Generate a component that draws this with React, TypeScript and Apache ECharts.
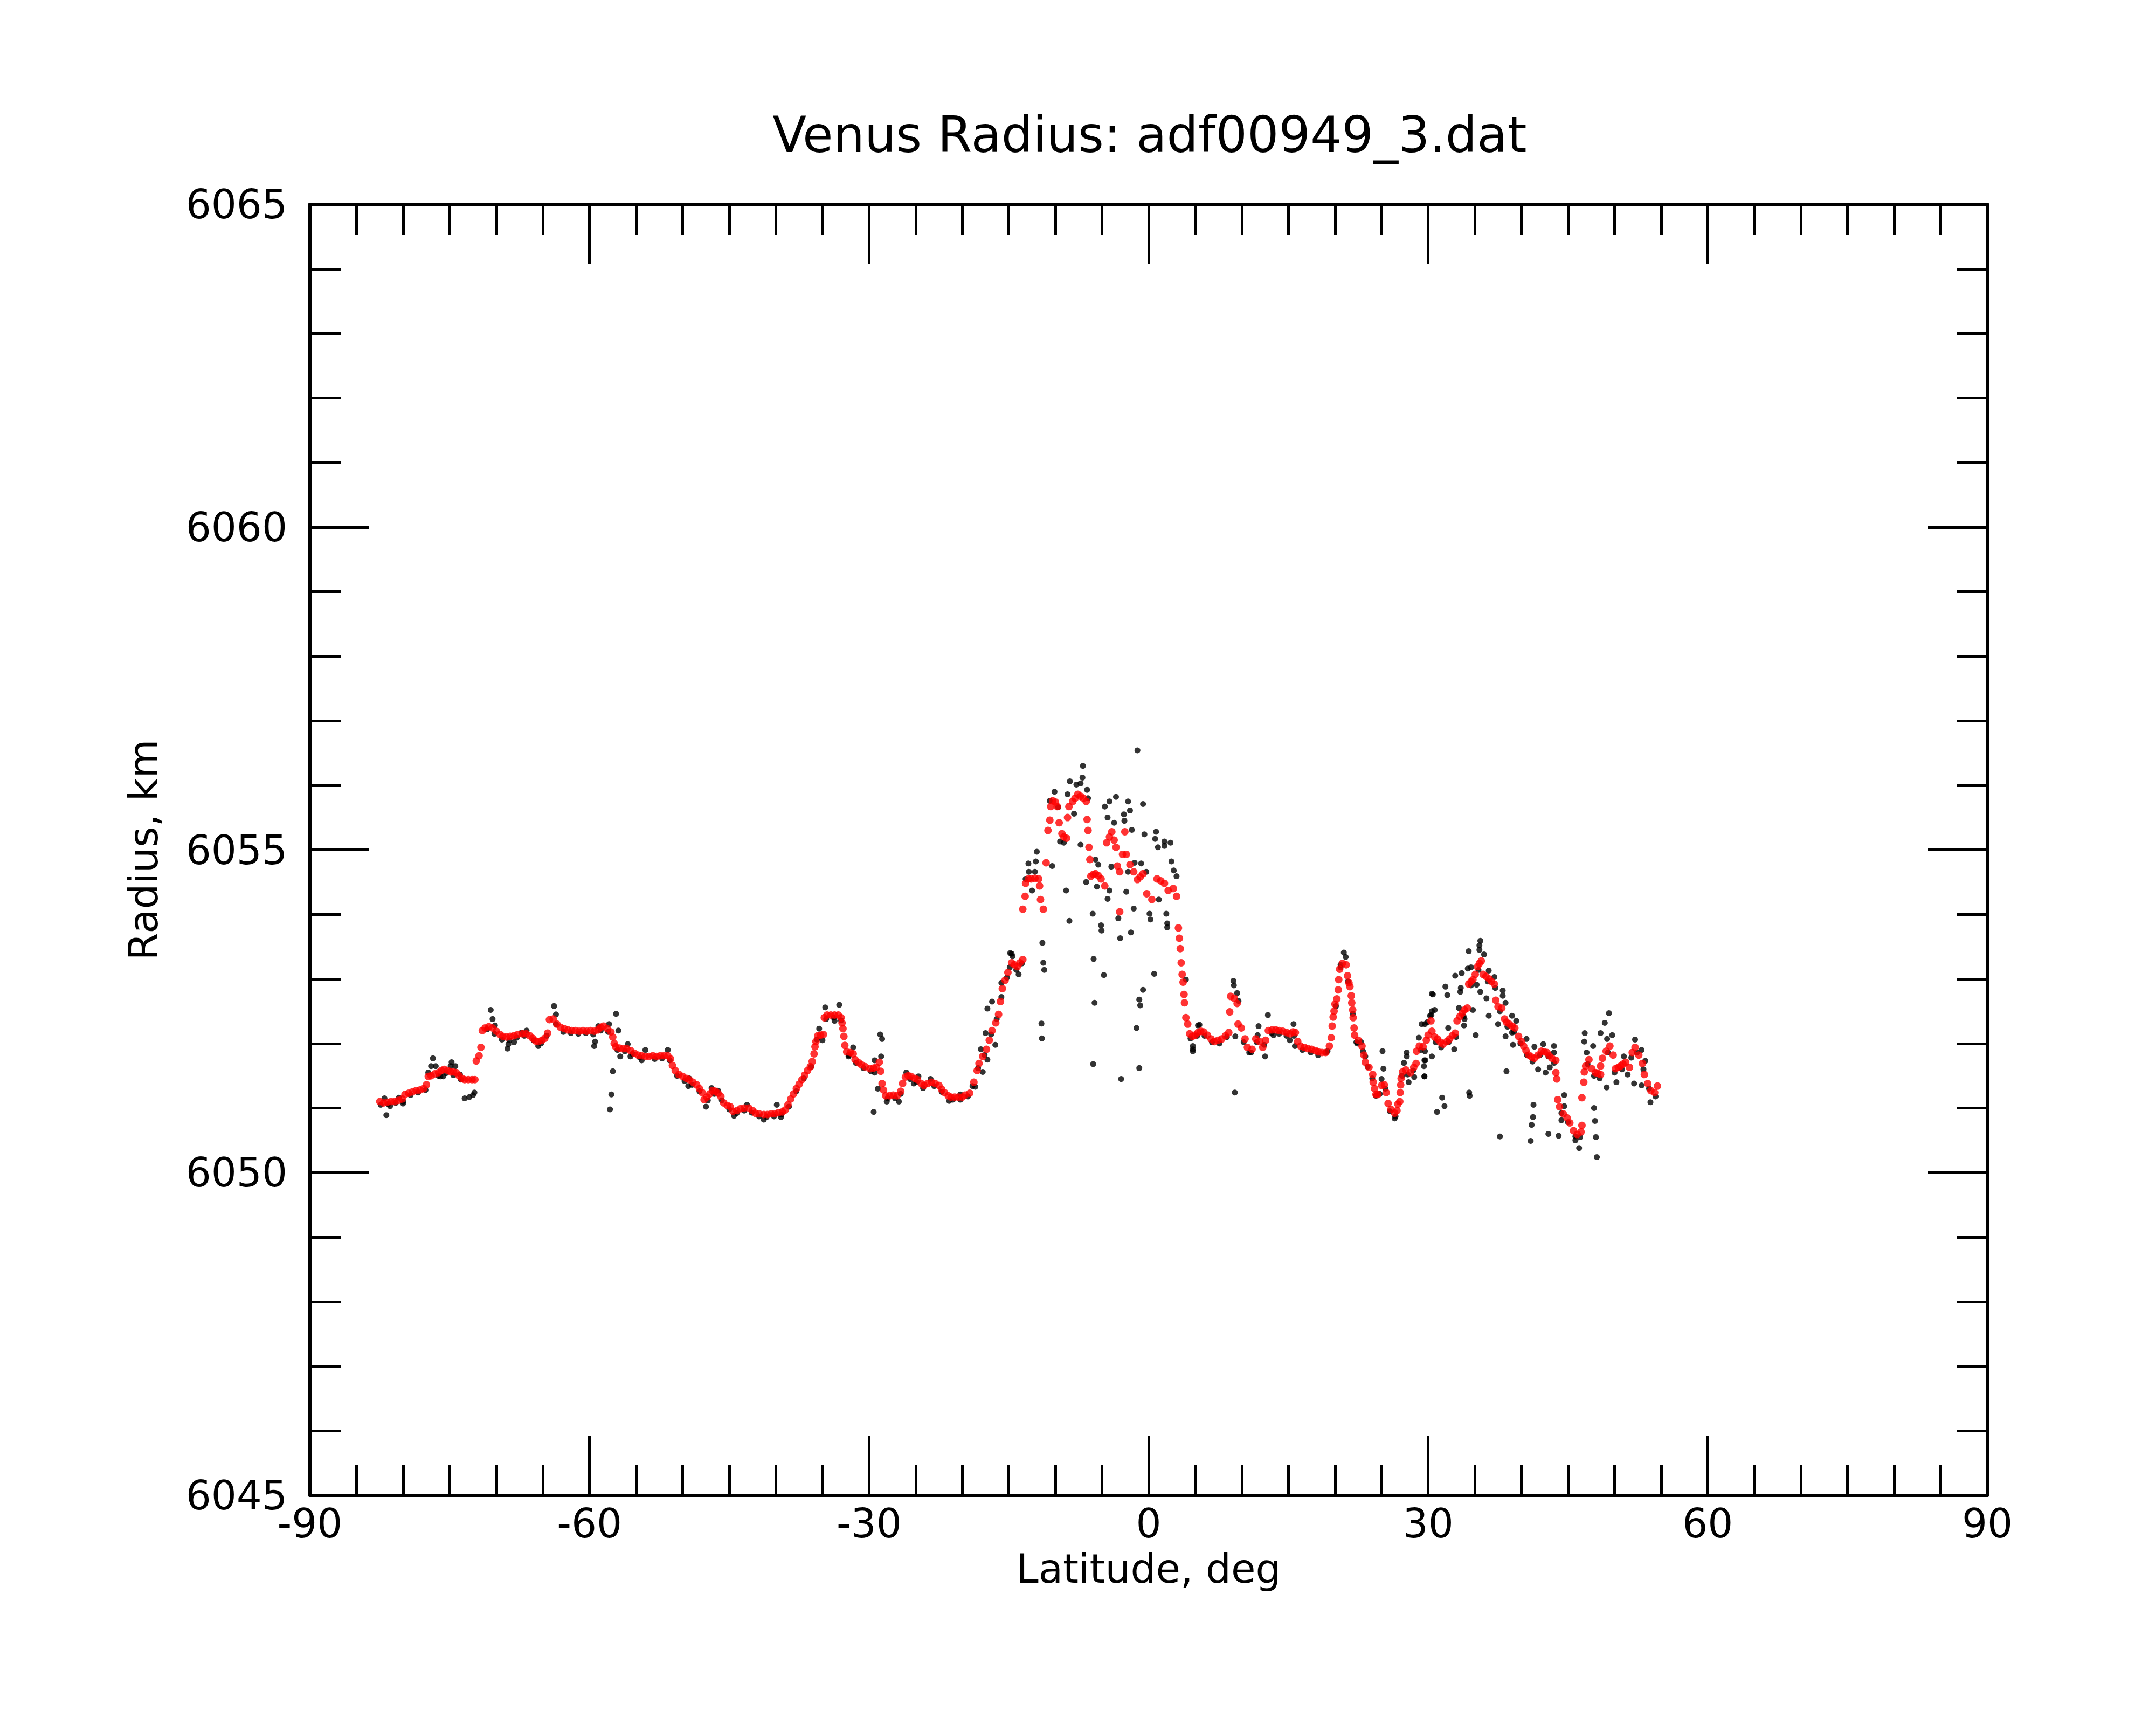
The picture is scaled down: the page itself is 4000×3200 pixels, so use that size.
import React, { useEffect, useRef } from "react";
import * as echarts from "echarts";

// ---- tick labels / axis ranges ----
const xTicks = [-90, -60, -30, 0, 30, 60, 90];
const yTicks = [6045, 6050, 6055, 6060, 6065];
const titleText = "Venus Radius: adf00949_3.dat";
const xName = "Latitude, deg";
const yName = "Radius, km";

// ---- red (smoothed) points: [latitude, radius] ----
const redSouth: number[][] = [
  [-82.5,6051.10],[-82.1,6051.08],[-81.7,6051.09],[-81.3,6051.10],[-80.9,6051.10],[-80.5,6051.12],[-80.1,6051.14],[-79.8,6051.21],
  [-79.4,6051.23],[-79.0,6051.25],[-78.6,6051.27],[-78.2,6051.28],[-77.8,6051.30],[-77.5,6051.36],[-77.3,6051.49],[-77.0,6051.50],
  [-76.6,6051.53],[-76.2,6051.55],[-75.9,6051.58],[-75.6,6051.60],[-75.2,6051.58],[-74.9,6051.56],[-74.6,6051.56],[-74.3,6051.55],
  [-74.0,6051.50],[-73.7,6051.46],[-73.4,6051.44],[-73.0,6051.44],[-72.6,6051.44],[-72.3,6051.44],
  [-72.15,6051.73],[-71.85,6051.81],[-71.65,6051.94],
  [-71.5,6052.20],[-71.2,6052.24],[-70.8,6052.26],[-70.4,6052.24],[-70.0,6052.19],[-69.6,6052.14],[-69.3,6052.11],[-68.9,6052.10],
  [-68.5,6052.11],[-68.1,6052.12],[-67.7,6052.14],[-67.2,6052.15],[-66.8,6052.15],[-66.4,6052.12],[-66.1,6052.08],[-65.8,6052.04],
  [-65.5,6052.03],[-65.1,6052.05],[-64.8,6052.08],[-64.5,6052.16],[-64.3,6052.37],[-63.9,6052.38],[-63.5,6052.30],[-63.1,6052.25],
  [-62.7,6052.23],[-62.3,6052.21],[-61.9,6052.20],[-61.5,6052.20],[-61.1,6052.19],[-60.7,6052.20],[-60.3,6052.19],[-59.9,6052.20],
  [-59.5,6052.19],[-59.1,6052.21],[-58.8,6052.25],[-58.5,6052.27],[-58.1,6052.23],[-57.7,6052.18],[-57.5,6052.10],[-57.35,6052.00],
  [-57.2,6051.95],[-56.8,6051.93],[-56.4,6051.92],[-56.0,6051.92],[-55.6,6051.89],[-55.2,6051.85],[-54.8,6051.82],[-54.4,6051.81],
  [-54.0,6051.80],
];
const redMid: number[][] = [
  [-53.6,6051.80],[-53.2,6051.81],[-52.8,6051.80],[-52.4,6051.81],[-52.0,6051.81],[-51.6,6051.81],[-51.3,6051.76],[-51.1,6051.66],
  [-50.8,6051.58],[-50.4,6051.52],[-50.0,6051.49],[-49.6,6051.46],[-49.3,6051.44],[-48.9,6051.40],[-48.5,6051.36],[-48.2,6051.30],
  [-47.9,6051.24],[-47.7,6051.13],[-47.4,6051.17],[-47.1,6051.22],[-46.8,6051.27],[-46.5,6051.26],[-46.2,6051.23],[-45.9,6051.18],
  [-45.6,6051.08],[-45.2,6051.04],[-44.9,6051.02],[-44.6,6050.95],[-44.2,6050.96],[-43.8,6050.99],[-43.4,6051.00],[-42.9,6051.00],
  [-42.5,6050.96],[-42.2,6050.92],[-41.8,6050.91],[-41.3,6050.90],[-40.9,6050.90],[-40.5,6050.91],[-40.1,6050.91],[-39.7,6050.93],
  [-39.3,6050.94],[-39.0,6050.97],[-38.7,6051.05],[-38.4,6051.14],[-38.1,6051.22],[-37.8,6051.30],[-37.5,6051.37],[-37.2,6051.44],
  [-36.9,6051.51],[-36.6,6051.58],[-36.3,6051.64],[-36.1,6051.72],[-35.9,6051.84],[-35.8,6051.95],[-35.7,6052.03],[-35.5,6052.12],
  [-35.2,6052.13],[-34.9,6052.14],[-34.8,6052.40],[-34.5,6052.44],[-34.1,6052.44],[-33.7,6052.44],[-33.3,6052.44],[-33.0,6052.40],
  [-32.9,6052.32],[-32.8,6052.23],[-32.7,6052.11],[-32.6,6051.97],[-32.4,6051.87],[-32.0,6051.86],[-31.7,6051.84],[-31.5,6051.75],
  [-31.1,6051.70],[-30.8,6051.67],[-30.4,6051.64],[-29.9,6051.61],[-29.5,6051.62],[-29.2,6051.63],[-28.9,6051.71],[-28.75,6051.57],
  [-28.6,6051.38],[-28.45,6051.28],[-28.2,6051.19],[-27.8,6051.19],[-27.4,6051.20],[-27.0,6051.19],[-26.6,6051.26],[-26.4,6051.38],
  [-26.1,6051.48],[-25.8,6051.50],[-25.5,6051.49],[-25.1,6051.46],[-24.8,6051.44],[-24.4,6051.38],[-24.1,6051.35],[-23.7,6051.38],
  [-23.3,6051.40],[-22.9,6051.38],[-22.5,6051.35],[-22.2,6051.29],[-21.9,6051.24],[-21.5,6051.19],[-21.2,6051.17],[-20.8,6051.17],
  [-20.4,6051.17],[-20.0,6051.17],[-19.7,6051.20],
];
const redCenter: number[][] = [
  [-19.2,6051.23],[-18.75,6051.40],[-18.4,6051.58],[-18.2,6051.69],[-17.8,6051.80],[-17.4,6051.91],[-17.1,6052.05],[-16.8,6052.20],
  [-16.4,6052.32],[-16.1,6052.45],[-15.9,6052.65],[-15.7,6052.85],[-15.4,6052.98],[-15.1,6053.10],[-14.7,6053.25],[-14.4,6053.22],
  [-14.1,6053.19],[-13.8,6053.25],[-13.5,6053.30],
  [-13.5,6054.08],[-13.25,6054.28],[-13.2,6054.48],[-12.9,6054.55],[-12.6,6054.55],[-12.2,6054.56],[-11.8,6054.55],[-11.7,6054.44],
  [-11.6,6054.23],[-11.3,6054.08],[-11.0,6054.80],[-10.8,6055.30],[-10.6,6055.46],[-10.5,6055.67],[-10.3,6055.76],[-10.0,6055.74],
  [-9.8,6055.67],[-9.6,6055.42],[-9.3,6055.25],[-9.1,6055.20],[-8.8,6055.18],[-8.7,6055.50],[-8.55,6055.67],[-8.15,6055.75],
  [-7.9,6055.80],[-7.6,6055.86],[-7.3,6055.83],[-7.0,6055.80],[-6.7,6055.75],[-6.6,6055.47],[-6.5,6055.30],[-6.4,6055.04],
  [-6.3,6054.85],[-6.2,6054.59],[-5.95,6054.62],[-5.7,6054.63],[-5.4,6054.60],[-5.1,6054.55],[-4.7,6054.44],[-4.5,6055.11],
  [-4.2,6055.20],[-3.95,6055.28],[-3.7,6055.15],[-3.5,6055.04],[-3.35,6054.75],[-3.1,6054.66],[-3.1,6054.04],[-2.8,6054.93],
  [-2.55,6055.28],[-2.4,6054.93],[-2.0,6054.77],[-1.6,6054.66],[-1.2,6054.54],[-0.9,6054.58],[-0.6,6054.63],[-0.2,6054.32],
  [0.35,6054.23],[0.9,6054.55],[1.3,6054.52],[1.7,6054.48],[2.1,6054.37],[2.65,6054.40],[3.0,6054.28],[3.2,6053.79],
  [3.3,6053.63],[3.4,6053.47],[3.5,6053.25],[3.6,6053.07],[3.7,6052.95],[3.8,6052.76],[3.85,6052.63],[4.0,6052.40],
  [4.2,6052.30],[4.4,6052.15],[4.7,6052.11],[5.0,6052.13],[5.3,6052.17],[5.6,6052.19],
];
const redNorth: number[][] = [
  [5.9,6052.18],[6.3,6052.13],[6.7,6052.07],[7.05,6052.03],[7.45,6052.05],[7.85,6052.07],[8.25,6052.12],[8.6,6052.17],
  [8.7,6052.49],[8.8,6052.73],[9.2,6052.70],[9.5,6052.62],[9.6,6052.30],[9.95,6052.24],[10.35,6052.07],[10.6,6051.94],
  [11.1,6051.91],[11.5,6052.07],[11.9,6052.03],[12.25,6051.94],[12.55,6052.05],[12.85,6052.20],[13.25,6052.21],[13.65,6052.21],
  [14.0,6052.20],[14.4,6052.19],[14.8,6052.17],[15.15,6052.15],[15.5,6052.18],[15.75,6052.17],[16.0,6052.03],[16.3,6051.96],
  [16.7,6051.94],[17.1,6051.92],[17.5,6051.91],[17.9,6051.89],[18.2,6051.87],[18.6,6051.86],[19.0,6051.86],[19.4,6051.96],
  [19.6,6052.09],[19.7,6052.27],[19.8,6052.41],[19.9,6052.50],[20.0,6052.61],[20.2,6052.69],[20.35,6052.83],[20.4,6052.99],
  [20.5,6053.15],[20.8,6053.24],[21.2,6053.22],[21.35,6053.05],[21.5,6052.94],[21.6,6052.88],[21.75,6052.74],[21.8,6052.63],
  [21.9,6052.52],[21.95,6052.40],[22.05,6052.24],[22.1,6052.13],[22.5,6052.05],[22.9,6051.96],[23.1,6051.82],[23.25,6051.71],
  [23.65,6051.63],[24.05,6051.52],[24.1,6051.40],[24.25,6051.30],[24.4,6051.21],[24.6,6051.21],[25.0,6051.35],[25.3,6051.36],
  [25.5,6051.24],[25.7,6051.07],[26.0,6050.98],[26.4,6050.92],[26.65,6050.96],[26.75,6051.06],[26.95,6051.10],[27.0,6051.24],
  [27.05,6051.36],[27.1,6051.46],[27.25,6051.56],[27.6,6051.59],[28.1,6051.55],[28.45,6051.63],[28.7,6051.69],[28.75,6051.88],
  [29.05,6051.96],[29.45,6051.95],[29.8,6052.05],[30.0,6052.13],[30.3,6052.35],[30.4,6052.19],[30.7,6052.10],[31.0,6052.07],
  [31.3,6052.02],[31.6,6051.99],[32.0,6052.03],[32.3,6052.07],[32.6,6052.12],[32.9,6052.16],[33.1,6052.35],[33.4,6052.42],
  [33.65,6052.47],[33.9,6052.52],[34.2,6052.55],[34.35,6052.92],[34.6,6052.96],[34.8,6052.99],[35.05,6053.07],[35.3,6053.19],
  [35.5,6053.24],[35.7,6053.28],[35.9,6053.07],[36.2,6053.04],[36.55,6053.00],[36.8,6052.96],[37.1,6052.92],[37.25,6052.67],
  [37.5,6052.57],[37.9,6052.55],[38.2,6052.38],[38.4,6052.33],[38.7,6052.30],[39.0,6052.27],[39.3,6052.24],[39.7,6052.11],
  [40.0,6052.03],[40.25,6051.96],[40.5,6051.89],[40.8,6051.82],[41.1,6051.79],[41.4,6051.77],[41.8,6051.82],[42.15,6051.88],
  [42.45,6051.87],[42.75,6051.86],[43.0,6051.81],[43.3,6051.77],[43.7,6051.74],[43.7,6051.55],[43.8,6051.45],[43.9,6051.13],
  [44.1,6051.02],[44.5,6050.91],[44.9,6050.85],[45.2,6050.77],[45.6,6050.65],[46.0,6050.59],[46.4,6050.63],[46.5,6050.73],
  [46.5,6051.16],[46.7,6051.40],[46.75,6051.56],[46.9,6051.65],[47.25,6051.75],[47.55,6051.61],[47.95,6051.55],[48.2,6051.54],
  [48.5,6051.52],[48.5,6051.65],[48.7,6051.77],[49.1,6051.88],[49.5,6051.96],[49.85,6051.82],[50.1,6051.61],[50.4,6051.63],
  [50.65,6051.65],[50.9,6051.68],[51.2,6051.71],[51.6,6051.63],[51.9,6051.86],[52.2,6051.94],[52.6,6051.82],[53.0,6051.69],
  [53.2,6051.52],[53.55,6051.38],[53.9,6051.27],[54.3,6051.24],[54.6,6051.34],
];

// ---- black (raw) points: [latitude, radius] ----
const blackTrack: number[][] = [
  [-82.4,6051.05],[-81.6,6051.06],[-80.8,6051.08],[-80.0,6051.10],[-79.2,6051.20],[-78.4,6051.24],[-77.6,6051.28],[-76.2,6051.50],
  [-75.4,6051.54],[-74.6,6051.51],[-73.8,6051.44],[-71.0,6052.22],[-70.2,6052.15],[-69.4,6052.06],[-68.6,6052.05],[-67.8,6052.09],
  [-67.0,6052.12],[-66.0,6052.05],[-65.2,6052.00],[-64.6,6052.12],[-63.6,6052.30],[-62.8,6052.18],[-62.0,6052.16],[-61.2,6052.15],
  [-60.4,6052.16],[-59.6,6052.14],[-58.8,6052.20],[-58.0,6052.18],[-57.0,6051.90],[-56.2,6051.88],[-55.4,6051.84],[-54.6,6051.78],
  [-53.0,6051.76],[-52.2,6051.77],[-51.4,6051.74],[-50.6,6051.50],[-49.8,6051.42],[-49.0,6051.36],[-48.2,6051.26],[-47.3,6051.12],
  [-46.6,6051.22],[-45.8,6051.12],[-45.0,6050.98],[-44.2,6050.92],[-43.4,6050.96],[-42.6,6050.93],[-41.8,6050.87],[-41.0,6050.86],
  [-40.2,6050.87],[-39.4,6050.90],[-38.6,6051.02],[-37.8,6051.26],[-37.0,6051.46],[-36.2,6051.64],[-35.6,6052.06],[-34.6,6052.38],
  [-33.8,6052.40],[-33.0,6052.36],[-32.2,6051.82],[-31.4,6051.70],[-30.6,6051.62],[-29.8,6051.57],[-28.0,6051.15],[-27.2,6051.15],
  [-26.6,6051.22],[-25.6,6051.45],[-24.9,6051.40],[-24.2,6051.31],[-23.0,6051.34],[-22.2,6051.25],[-21.0,6051.13],[-20.2,6051.13],
  [-19.4,6051.18],[-18.9,6051.34],[-18.3,6051.62],[-17.6,6051.82],[-16.9,6052.14],[-16.3,6052.38],[-15.8,6052.72],[-15.2,6053.02],
  [-14.9,6053.18],[-14.2,6053.14],[-13.6,6053.24],
  [4.5,6052.08],[5.2,6052.12],[6.0,6052.12],[6.8,6052.02],[7.6,6052.00],[8.4,6052.10],[10.2,6052.02],[11.0,6051.86],
  [11.6,6052.02],[12.4,6051.98],[13.2,6052.16],[14.0,6052.15],[14.8,6052.12],[15.6,6052.12],[16.5,6051.90],[17.4,6051.86],
  [18.2,6051.82],[19.2,6051.88],[20.1,6052.58],[20.6,6053.18],[21.4,6052.96],[21.9,6052.46],[22.4,6052.00],[23.0,6051.88],
  [23.5,6051.64],[24.0,6051.46],[24.8,6051.22],[25.4,6051.30],[25.9,6050.95],[26.5,6050.87],[27.2,6051.50],[27.8,6051.52],
  [28.4,6051.58],[29.2,6051.90],[30.8,6052.02],[31.4,6051.94],[32.2,6052.02],[33.0,6052.10],[33.8,6052.42],[34.6,6052.90],
  [35.4,6053.14],[36.4,6052.96],[37.2,6052.86],[37.7,6052.50],[38.5,6052.26],[39.2,6052.18],[39.9,6052.00],[40.6,6051.82],
  [41.2,6051.72],[42.0,6051.82],[42.9,6051.80],[43.5,6051.70],[44.3,6050.92],[45.0,6050.78],[45.8,6050.56],[46.3,6050.55],
  [47.1,6051.68],[47.8,6051.50],[48.4,6051.46],[49.3,6051.86],[50.0,6051.55],[50.8,6051.60],[51.8,6051.78],[52.4,6051.86],
  [53.1,6051.60],[53.7,6051.30],[54.4,6051.18],
];
const blackScatterSouth: number[][] = [
  [-81.8,6050.89],[-81.4,6051.03],[-82.0,6051.15],[-80.45,6051.16],[-80.0,6051.07],[-76.8,6051.77],[-77.0,6051.65],[-76.5,6051.65],
  [-77.3,6051.55],[-75.7,6051.49],[-76.0,6051.49],[-74.8,6051.71],[-74.9,6051.65],[-74.4,6051.65],[-73.9,6051.52],[-73.4,6051.15],
  [-72.9,6051.17],[-72.5,6051.20],[-72.35,6051.24],[-70.6,6052.52],[-70.4,6052.38],[-70.15,6052.28],[-68.8,6051.92],[-68.7,6051.99],
  [-68.1,6052.02],[-67.3,6052.17],[-66.75,6052.20],[-65.5,6051.96],[-63.8,6052.58],[-63.6,6052.45],[-59.5,6051.96],[-59.4,6052.03],
  [-59.05,6052.27],[-57.9,6052.30],[-57.15,6052.46],[-56.9,6052.20],[-57.5,6051.57],[-57.65,6051.21],[-57.8,6050.98],[-56.7,6051.80],
  [-55.9,6051.99],[-55.6,6051.80],[-54.4,6051.74],
  [-54.0,6051.90],[-51.6,6051.90],[-49.3,6051.46],[-49.4,6051.34],[-47.5,6051.02],[-46.9,6051.31],[-46.2,6051.27],[-44.5,6050.88],
  [-43.1,6051.05],[-41.3,6050.82],[-39.9,6051.05],[-39.45,6050.86],[-35.35,6052.23],[-35.0,6052.05],[-34.7,6052.56],[-33.7,6052.35],
  [-33.2,6052.60],[-31.7,6051.94],[-32.2,6051.80],[-28.6,6052.07],[-28.8,6052.14],[-28.7,6051.80],[-29.4,6051.74],[-29.05,6051.30],
  [-29.4,6051.55],[-29.5,6050.94],[-28.1,6051.10],[-26.8,6051.10],[-26.0,6051.55],[-25.2,6051.38],[-24.7,6051.49],[-23.4,6051.45],
  [-21.4,6051.11],[-20.2,6051.21],
];
const blackScatterCenter: number[][] = [
  [-1.2,6056.54],[-7.05,6056.30],[-7.1,6056.12],[-8.45,6056.06],[-7.75,6056.01],[-7.3,6056.03],[-10.1,6055.90],[-8.7,6055.86],
  [-6.6,6055.93],[-6.5,6055.80],[-10.6,6055.76],[-9.7,6055.66],[-8.0,6055.56],[-3.5,6055.82],[-4.2,6055.75],[-4.7,6055.67],
  [-2.2,6055.75],[-0.6,6055.71],[-2.65,6055.55],[-2.0,6055.61],[-4.4,6055.50],[-3.7,6055.42],[-2.6,6055.45],[-1.8,6055.31],
  [-0.45,6055.24],[0.8,6055.28],[0.7,6055.17],[1.7,6055.13],[2.35,6055.11],[1.0,6055.04],[1.7,6055.06],[-7.3,6055.08],
  [-9.5,6055.13],[-9.1,6055.11],[-12.0,6054.97],[-12.9,6054.79],[-12.1,6054.82],[-10.35,6054.75],[-12.85,6054.66],[-12.2,6054.66],
  [-13.2,6054.55],[-12.5,6054.37],[-5.7,6054.85],[-5.4,6054.77],[-4.0,6054.74],[-1.5,6054.80],[-0.8,6054.79],[-2.2,6054.66],
  [2.45,6054.82],[2.7,6054.68],[3.0,6054.59],[-0.25,6054.66],[1.1,6054.23],[-6.7,6054.50],[-5.55,6054.43],[-4.2,6054.37],
  [-4.4,6054.24],[-2.4,6054.35],[-8.85,6054.37],[-1.6,6054.09],[-6.0,6054.01],[0.1,6054.01],[1.9,6054.01],[-3.25,6053.94],
  [0.2,6053.92],[-8.5,6053.90],[2.0,6053.86],[2.0,6053.80],[-5.1,6053.83],[-5.05,6053.75],[-1.9,6053.72],[-3.05,6053.63],
  [-11.4,6053.56],[-14.7,6053.39],[-14.6,6053.35],[-13.95,6053.07],[-11.3,6053.25],[-11.2,6053.14],[-5.9,6053.31],[-4.8,6053.06],
  [0.6,6053.08],[-0.6,6052.83],[-1.0,6052.68],[-0.9,6052.59],[-5.8,6052.63],[-11.5,6052.31],[-11.45,6052.08],[-1.3,6052.24],
  [-5.95,6051.68],[-1.0,6051.62],[-2.95,6051.45],[-15.8,6052.94],[-16.8,6052.65],[-17.3,6052.54],[-17.5,6052.16],[-16.45,6051.98],
  [-18.0,6051.91],[-17.3,6051.75],[-17.8,6051.56],[-18.6,6051.33],[-14.85,6053.40],[4.75,6051.91],[5.45,6052.29],
];
const blackScatterNorth: number[][] = [
  [4.75,6051.96],[4.75,6051.88],[5.3,6052.28],[9.1,6052.97],[9.15,6052.90],[9.5,6052.78],[9.65,6052.66],[9.3,6052.11],
  [9.25,6051.24],[10.8,6051.86],[11.8,6052.27],[11.7,6052.13],[12.8,6052.44],[12.5,6051.80],[13.4,6052.13],[15.15,6052.05],
  [15.55,6052.30],[15.7,6051.96],[19.0,6051.86],[20.95,6053.41],[21.15,6053.34],[20.6,6053.22],[22.3,6052.02],[22.8,6052.02],
  [23.25,6051.80],[25.1,6051.88],[25.2,6051.61],[25.0,6051.45],[24.4,6051.19],[26.4,6050.84],[27.7,6051.86],[27.7,6051.80],
  [27.4,6051.70],[27.9,6051.40],[28.5,6051.48],[29.3,6052.30],[29.0,6052.09],[29.65,6051.88],[29.6,6051.74],[29.55,6051.65],
  [29.6,6051.49],[29.9,6052.33],[30.4,6052.77],[30.2,6052.43],[30.4,6052.50],[4.0,6052.99],
  [30.5,6052.76],[31.85,6052.88],[32.05,6052.75],[30.7,6052.52],[30.35,6052.44],[29.65,6052.30],[32.15,6052.24],[32.9,6053.05],
  [33.6,6053.09],[33.5,6052.86],[33.45,6052.80],[33.3,6052.55],[33.9,6052.38],[33.85,6052.28],[34.8,6052.52],[35.1,6052.13],
  [34.35,6053.43],[35.6,6053.59],[35.5,6053.52],[35.5,6053.45],[36.0,6053.38],[34.25,6053.16],[34.6,6053.18],[35.2,6052.91],
  [35.6,6052.80],[36.25,6052.70],[36.5,6053.13],[37.1,6053.03],[36.5,6052.43],[38.0,6052.82],[38.0,6052.74],[38.3,6052.63],
  [37.5,6052.30],[38.3,6052.11],[39.0,6052.43],[39.0,6052.17],[39.1,6051.98],[39.45,6052.35],[38.4,6051.57],[40.55,6052.07],
  [41.4,6051.95],[41.8,6051.60],[42.35,6051.99],[42.6,6051.55],[43.05,6051.63],[43.5,6051.96],[43.5,6051.86],[44.6,6051.20],
  [44.6,6051.03],[44.3,6050.81],[44.0,6050.57],[42.9,6050.60],[41.3,6051.05],[41.25,6050.86],[41.1,6050.74],[41.0,6050.49],
  [37.7,6050.56],[34.45,6051.19],[34.4,6051.24],[31.5,6051.16],[31.75,6051.03],[30.95,6050.94],[29.7,6051.74],[29.6,6051.49],
  [30.4,6051.80],[32.8,6051.91],[45.8,6050.50],[46.2,6050.38],[47.8,6051.00],[47.9,6050.80],[48.0,6050.55],[48.1,6050.24],
  [46.8,6052.16],[46.75,6052.03],[47.0,6051.86],[48.5,6052.16],[48.95,6052.32],[49.4,6052.47],[49.75,6052.13],[49.2,6052.07],
  [47.7,6051.96],[49.15,6051.32],[50.2,6051.40],[51.0,6051.80],[51.4,6051.52],[52.1,6051.38],[52.2,6052.06],[52.9,6051.90],
  [53.3,6051.73],[52.9,6051.35],[53.85,6051.09],
];

const redPoints = [...redSouth, ...redMid, ...redCenter, ...redNorth];
const blackPoints = [...blackTrack, ...blackScatterSouth, ...blackScatterCenter, ...blackScatterNorth];

const FONT = "DejaVu Sans";

export default function App() {
  const ref = useRef<HTMLDivElement>(null);
  useEffect(() => {
    document.body.style.margin = "0";
    if (!ref.current) return;
    const chart = echarts.init(ref.current, undefined, { renderer: "svg" });

    const axisCommon = (showLabel: boolean, isX: boolean) => ({
      type: "value" as const,
      min: isX ? xTicks[0] : yTicks[0],
      max: isX ? xTicks[xTicks.length - 1] : yTicks[yTicks.length - 1],
      interval: isX ? 30 : 5,
      axisLine: { show: true, onZero: false, lineStyle: { color: "#000", width: 6 } },
      axisTick: { show: true, inside: true, length: 110, lineStyle: { color: "#000", width: 5 } },
      minorTick: { show: true, splitNumber: isX ? 6 : 5, length: 57, lineStyle: { color: "#000", width: 5 } },
      splitLine: { show: false },
      minorSplitLine: { show: false },
      axisLabel: {
        show: showLabel,
        fontSize: 74,
        fontFamily: FONT,
        color: "#000",
        margin: isX ? 15 : 42,
        formatter: (v: number) => String(Math.round(v)),
      },
    });

    chart.setOption({
      animation: false,
      backgroundColor: "#fff",
      grid: { left: 575, right: 313, top: 379, bottom: 426, containLabel: false },
      graphic: [
        {
          type: "text",
          x: 2133,
          y: 250,
          style: {
            text: titleText,
            fontSize: 92,
            fontFamily: FONT,
            fill: "#000",
            align: "center",
            verticalAlign: "middle",
          },
        },
      ],
      xAxis: [
        {
          ...axisCommon(true, true),
          position: "bottom",
          name: xName,
          nameLocation: "middle",
          nameGap: 99,
          nameTextStyle: { fontSize: 74, fontFamily: FONT, color: "#000" },
        },
        { ...axisCommon(false, true), position: "top" },
      ],
      yAxis: [
        {
          ...axisCommon(true, false),
          position: "left",
          name: yName,
          nameLocation: "middle",
          nameRotate: 90,
          nameGap: 272,
          nameTextStyle: { fontSize: 74, fontFamily: FONT, color: "#000" },
        },
        { ...axisCommon(false, false), position: "right" },
      ],
      series: [
        {
          type: "scatter",
          xAxisIndex: 0,
          yAxisIndex: 0,
          data: blackPoints,
          symbol: "circle",
          symbolSize: 11,
          itemStyle: { color: "#000" },
          silent: true,
        },
        {
          type: "scatter",
          xAxisIndex: 0,
          yAxisIndex: 0,
          data: redPoints,
          symbol: "circle",
          symbolSize: 14,
          itemStyle: { color: "#ff0000" },
          silent: true,
        },
      ],
    });
    return () => chart.dispose();
  }, []);
  return <div ref={ref} style={{ width: 4000, height: 3200 }} />;
}
